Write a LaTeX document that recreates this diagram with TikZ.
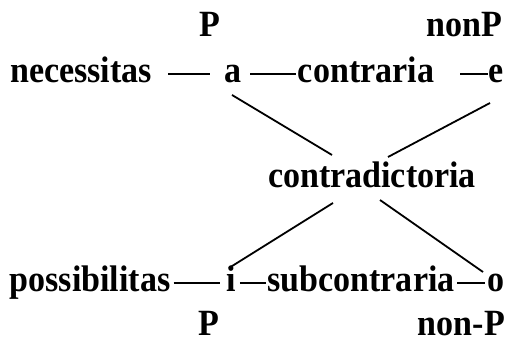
\documentclass[tikz,border=0pt]{standalone}
\usepackage{fontspec}
\setmainfont[FakeStretch=0.92]{Liberation Serif}
\begin{document}
\begin{tikzpicture}[x=1pt,y=1pt,
  word/.style={inner sep=0pt,anchor=base,font=\fontsize{37}{40}\selectfont\bfseries},
  dashline/.style={line width=2.4pt},
  diag/.style={line width=1.8pt}]
\useasboundingbox (0,0) rectangle (509,345);
% top labels
\node[word] (Pt) at (210,308) {P};
\node[word] (nPt) at (464,308) {nonP};
% row 2
\node[word] (nec) at (81,262) {necessitas};
\node[word] (a) at (233.5,262) {a};
\node[word] (con) at (366,262) {contraria};
\node[word] (e) at (496.5,262) {e};
% middle
\node[word] (cd) at (372,157) {contradictoria};
% row 3
\node[word] (pos) at (90,53) {possibilitas};
\node[word] (i) at (231,53) {i};
\node[word] (sub) at (361,53) {subcontraria};
\node[word] (o) at (496,53) {o};
% bottom labels
\node[word] (Pb) at (208.5,9) {P};
\node[word] (nPb) at (461.5,9) {non-P};
% dashes row 2
\draw[dashline,shorten <=16pt,shorten >=15pt] ([yshift=9pt]nec.base east) -- ([yshift=9pt]a.base west);
\draw[dashline,shorten <=8pt,shorten >=2pt] ([yshift=9pt]a.base east) -- ([yshift=9pt]con.base west);
\draw[dashline,shorten <=26pt,shorten >=1pt] ([yshift=9pt]con.base east) -- ([yshift=9pt]e.base west);
% dashes row 3
\draw[dashline,shorten <=3pt,shorten >=6pt] ([yshift=9pt]pos.base east) -- ([yshift=9pt]i.base west);
\draw[dashline,shorten <=4pt,shorten >=1.5pt] ([yshift=9pt]i.base east) -- ([yshift=9pt]sub.base west);
\draw[dashline,shorten <=2.5pt,shorten >=2.5pt] ([yshift=9pt]sub.base east) -- ([yshift=9pt]o.base west);
% diagonals
\coordinate (aL) at (232,250);
\coordinate (cdTL) at (332,190);
\coordinate (eR) at (490,242);
\coordinate (cdTR) at (388,188);
\coordinate (cdBL) at (333,142);
\coordinate (iL) at (229,77);
\coordinate (cdBR) at (380,145);
\coordinate (oR) at (483,73);
\draw[diag] (aL) -- (cdTL);
\draw[diag] (eR) -- (cdTR);
\draw[diag] (cdBL) -- (iL);
\draw[diag] (cdBR) -- (oR);
\end{tikzpicture}
\end{document}
